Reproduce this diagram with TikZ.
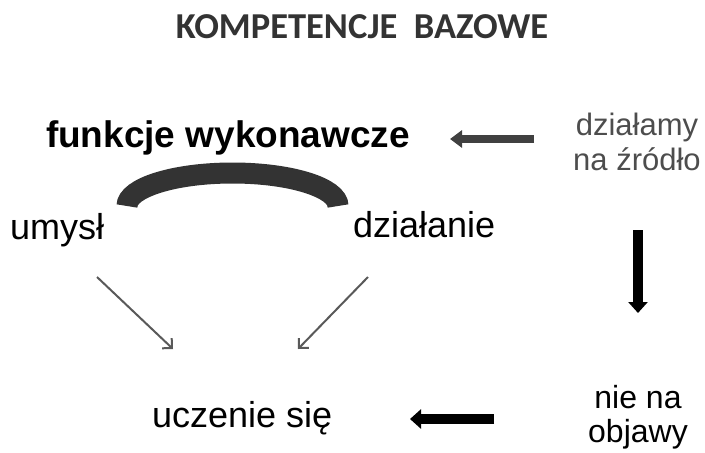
\documentclass[tikz,border=0pt]{standalone}
\usepackage{fontspec}
\setmainfont{Liberation Sans}
\newfontfamily\titlefont{Carlito}
\usetikzlibrary{arrows.meta}
\definecolor{darkarc}{HTML}{333333}
\definecolor{grayarrow}{HTML}{404040}
\definecolor{thingray}{HTML}{595959}
\definecolor{graytext}{HTML}{4D4D4D}
\tikzset{
  lbl/.style={inner sep=0pt, outer sep=0pt, font=\fontsize{36}{40}\selectfont},
  blockarrow/.style={line width=10pt, -{Triangle[length=11pt,width=19pt]}},
  thinarrow/.style={thingray, line width=2pt, -{Straight Barb[length=7pt,width=14pt]}},
}
\begin{document}
\begin{tikzpicture}[x=1pt,y=-1pt]
\useasboundingbox (0,0) rectangle (705,453);
% title
\node[inner sep=0pt, anchor=base, text=darkarc, font=\titlefont\bfseries\fontsize{36.5}{40}\selectfont] (title) at (362,38) {KOMPETENCJE\hspace{0.45em}BAZOWE};
% main labels
\node[lbl, anchor=base west, font=\bfseries\fontsize{37}{40}\selectfont] (fw) at (46,147) {funkcje wykonawcze};
\node[lbl, anchor=base west] (um) at (10,239) {umysł};
\node[lbl, anchor=base west] (dz) at (353,237) {działanie};
\node[lbl, anchor=base west] (uc) at (152,427) {uczenie się};
\node[lbl, align=center, text=graytext, font=\fontsize{31}{34.5}\selectfont] (zr) at (637,142) {działamy\\na źródło};
\node[lbl, align=center, font=\fontsize{32}{34.5}\selectfont] (ob) at (638,417) {nie na\\objawy};
% arc
\coordinate (arcL) at (127,206);
\coordinate (arcR) at (338,206);
\draw[darkarc, line width=21pt] (arcL) arc[start angle=180, end angle=0, x radius=105.5pt, y radius=33pt];
% thin arrows
\coordinate (a1s) at (97,277);
\coordinate (a1e) at (173,349);
\coordinate (a2s) at (368,277);
\coordinate (a2e) at (298,349);
\draw[thinarrow] (a1s) -- (a1e);
\draw[thinarrow] (a2s) -- (a2e);
% block arrows
\coordinate (g1) at (534,139);
\coordinate (g2) at (450,139);
\draw[blockarrow, grayarrow, line width=8pt, -{Triangle[length=12pt,width=17pt]}] (g1) -- (g2);
\coordinate (d1) at (638,230);
\coordinate (d2) at (638,313);
\draw[blockarrow, black] (d1) -- (d2);
\coordinate (b1) at (494,419);
\coordinate (b2) at (410,419);
\draw[blockarrow, black] (b1) -- (b2);
\end{tikzpicture}
\end{document}
